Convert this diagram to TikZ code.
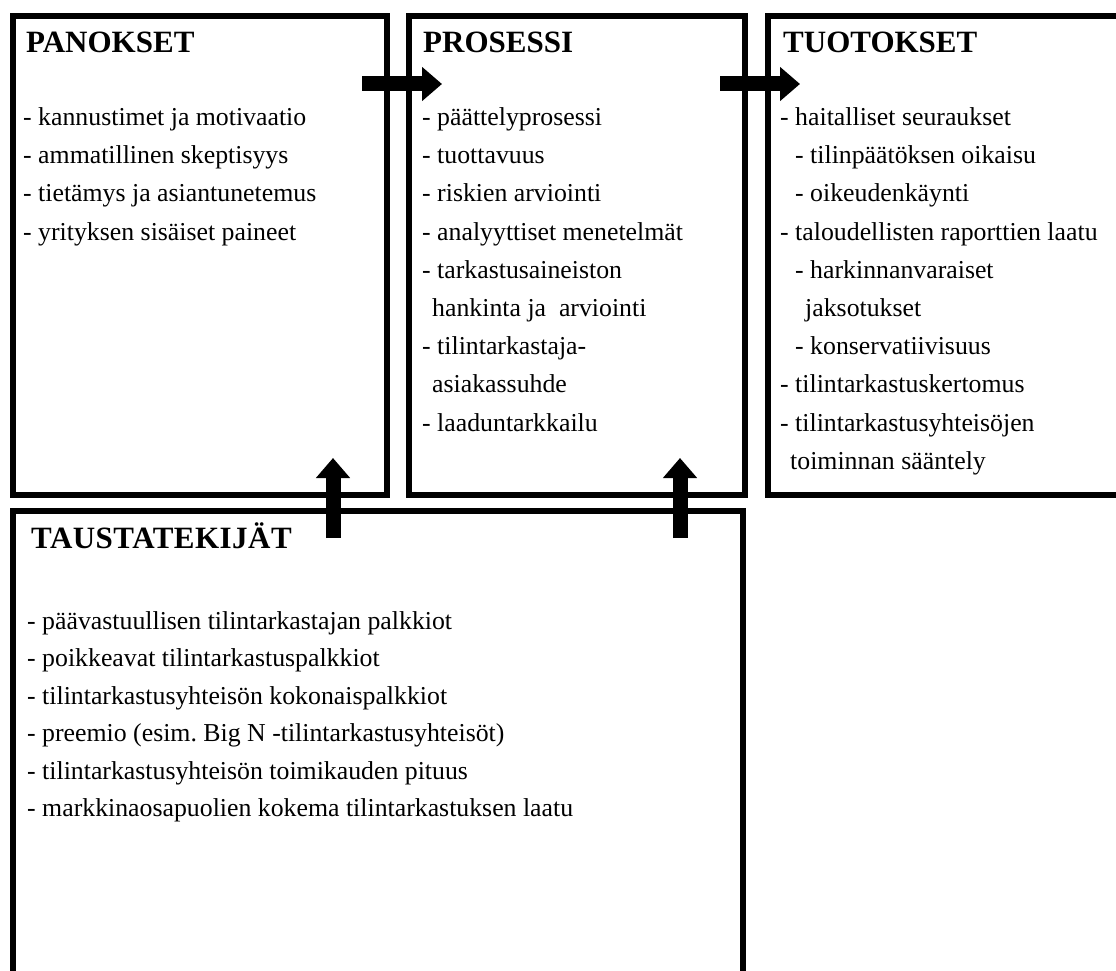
\documentclass[tikz,border=0pt]{standalone}
\usepackage{fontspec}
\setmainfont{Liberation Serif}
\usetikzlibrary{arrows.meta}
\frenchspacing
\begin{document}
\begin{tikzpicture}[x=1pt,y=-1pt,
  box/.style={draw=black, line width=5.8pt, anchor=north west, inner sep=0pt},
  ttl/.style={anchor=base west, inner sep=0pt, font=\fontsize{31}{36}\selectfont\bfseries},
  itm/.style={anchor=base west, inner sep=0pt, font=\fontsize{25.8}{30}\selectfont},
  fat/.style={line width=15pt, -{Triangle[length=20pt,width=33pt]}}]
\useasboundingbox (0,0) rectangle (1116,971);
\clip (0,0) rectangle (1116,971);
% boxes
\node[box, minimum width=374pt, minimum height=479pt] (panbox) at (10,13) {};
\node[box, minimum width=336pt, minimum height=479pt] (probox) at (406,13) {};
\node[box, minimum width=400pt, minimum height=479pt] (tuobox) at (765,13) {};
\node[box, minimum width=730pt, minimum height=500pt] (taubox) at (10,508) {};
% titles
\node[ttl] (pant) at (26,53) {PANOKSET};
\node[ttl] (prot) at (423,53) {PROSESSI};
\node[ttl] (tuot) at (783,53) {TUOTOKSET};
\node[ttl] (taut) at (31,548) {\addfontfeature{LetterSpace=1.5}TAUSTATEKIJÄT};
% PANOKSET items
\foreach \t [count=\i] in {{- kannustimet ja motivaatio},{- ammatillinen skeptisyys},{- tietämys ja asiantunetemus},{- yrityksen sisäiset paineet}}
  \node[itm] (pan\i) at (23,{125.5+(\i-1)*38.2}) {\t};
% PROSESSI items
\foreach \t/\dx [count=\i] in {{- päättelyprosessi}/0,{- tuottavuus}/0,{- riskien arviointi}/0,{- analyyttiset menetelmät}/0,{- tarkastusaineiston}/0,{hankinta ja\ \ arviointi}/10,{- tilintarkastaja-}/0,{asiakassuhde}/10,{- laaduntarkkailu}/0}
  \node[itm] (pro\i) at ({422+\dx},{125.5+(\i-1)*38.2}) {\t};
% TUOTOKSET items
\foreach \t/\dx [count=\i] in {{- haitalliset seuraukset}/0,{- tilinpäätöksen oikaisu}/15,{- oikeudenkäynti}/15,{- taloudellisten raporttien laatu}/0,{- harkinnanvaraiset}/15,{jaksotukset}/25,{- konservatiivisuus}/15,{- tilintarkastuskertomus}/0,{- tilintarkastusyhteisöjen}/0,{toiminnan sääntely}/10}
  \node[itm] (tuo\i) at ({780+\dx},{125.5+(\i-1)*38.2}) {\t};
% TAUSTATEKIJÄT items
\foreach \t [count=\i] in {{- päävastuullisen tilintarkastajan palkkiot},{- poikkeavat tilintarkastuspalkkiot},{- tilintarkastusyhteisön kokonaispalkkiot},{- preemio (esim.\ Big N -tilintarkastusyhteisöt)},{- tilintarkastusyhteisön toimikauden pituus},{- markkinaosapuolien kokema tilintarkastuksen laatu}}
  \node[itm] (tau\i) at (27,{629+(\i-1)*37.5}) {\t};
% arrows
\coordinate (a1s) at (362,84);
\coordinate (a1e) at (442,84);
\coordinate (a2s) at (720,84);
\coordinate (a2e) at (800,84);
\coordinate (u1s) at (333,538);
\coordinate (u1e) at (333,458);
\coordinate (u2s) at (680,538);
\coordinate (u2e) at (680,458);
\draw[fat] (a1s) -- (a1e);
\draw[fat] (a2s) -- (a2e);
\draw[fat] (u1s) -- (u1e);
\draw[fat] (u2s) -- (u2e);
\end{tikzpicture}
\end{document}
